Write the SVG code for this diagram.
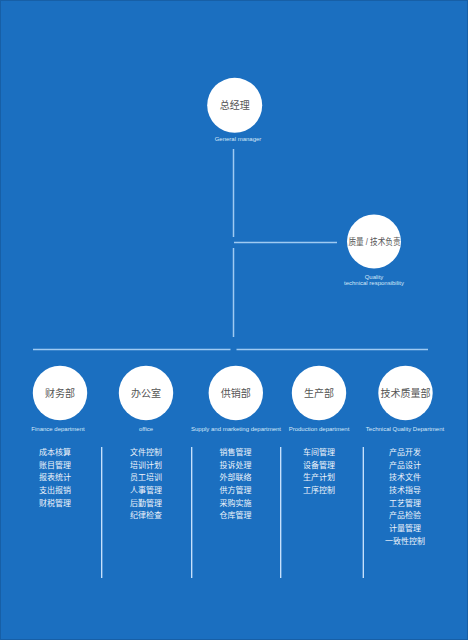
<svg xmlns="http://www.w3.org/2000/svg" width="468" height="640" viewBox="0 0 468 640">
<style>
.bg{fill:#1b6fc0;stroke:#175fa6;stroke-width:2}
.node{fill:#ffffff}
.cn{font-family:"Liberation Sans","Noto Sans CJK SC",sans-serif;font-size:10px;fill:#555555;text-anchor:middle}
.en{font-family:"Liberation Sans",Arial,sans-serif;font-size:6px;fill:#d6e7f8;text-anchor:middle}
.item{font-family:"Liberation Sans","Noto Sans CJK SC",sans-serif;font-size:8px;fill:#eef4fb;text-anchor:middle}
.ln{stroke:#9fcaf2;stroke-width:1.5;fill:none}
.dv{stroke:#cfe6ff;stroke-width:1.3;fill:none}
</style>
<rect class="bg" x="0" y="0" width="468" height="640"/>
<g id="connectors">
<line class="ln" x1="233.5" y1="149" x2="233.5" y2="237"/>
<line class="ln" x1="233.5" y1="248" x2="233.5" y2="337"/>
<line class="ln" x1="234" y1="242.5" x2="337" y2="242.5"/>
<line class="ln" x1="33" y1="349.5" x2="230.5" y2="349.5"/>
<line class="ln" x1="236.5" y1="349.5" x2="428" y2="349.5"/>
<line class="dv" x1="101.7" y1="447" x2="101.7" y2="578"/>
<line class="dv" x1="191.7" y1="447" x2="191.7" y2="578"/>
<line class="dv" x1="280.7" y1="447" x2="280.7" y2="578"/>
<line class="dv" x1="363.3" y1="447" x2="363.3" y2="578"/>
</g>
<g id="gm">
<circle class="node" cx="234.7" cy="105.3" r="27.5"/>
<text class="cn" x="234.7" y="108.8">总经理</text>
<text class="en" x="238" y="141.3">General manager</text>
</g>
<g id="quality">
<circle class="node" cx="374" cy="241.5" r="27"/>
<text class="cn" x="374.5" y="244.8" style="font-size:9.2px" textLength="52" lengthAdjust="spacingAndGlyphs">质量 / 技术负责</text>
<text class="en" x="374" y="278.8">Quality</text>
<text class="en" x="374" y="285.4">technical responsibility</text>
</g>
<g id="finance">
<circle class="node" cx="60" cy="393" r="27.2"/>
<text class="cn" x="60" y="396.5">财务部</text>
<text class="en" x="58" y="431">Finance department</text>
<text class="item" x="55" y="454.8">成本核算</text>
<text class="item" x="55" y="467.5">账目管理</text>
<text class="item" x="55" y="480.2">报表统计</text>
<text class="item" x="55" y="492.9">支出报销</text>
<text class="item" x="55" y="505.6">财税管理</text>
</g>
<g id="office">
<circle class="node" cx="146" cy="393" r="27.2"/>
<text class="cn" x="146" y="396.5">办公室</text>
<text class="en" x="146" y="431">office</text>
<text class="item" x="146" y="454.8">文件控制</text>
<text class="item" x="146" y="467.5">培训计划</text>
<text class="item" x="146" y="480.2">员工培训</text>
<text class="item" x="146" y="492.9">人事管理</text>
<text class="item" x="146" y="505.6">后勤管理</text>
<text class="item" x="146" y="518.3">纪律检查</text>
</g>
<g id="supply">
<circle class="node" cx="235.8" cy="393" r="27.2"/>
<text class="cn" x="235.8" y="396.5">供销部</text>
<text class="en" x="236" y="431">Supply and marketing department</text>
<text class="item" x="235.5" y="454.8">销售管理</text>
<text class="item" x="235.5" y="467.5">投诉处理</text>
<text class="item" x="235.5" y="480.2">外部联络</text>
<text class="item" x="235.5" y="492.9">供方管理</text>
<text class="item" x="235.5" y="505.6">采购实施</text>
<text class="item" x="235.5" y="518.3">仓库管理</text>
</g>
<g id="production">
<circle class="node" cx="319" cy="393" r="27.2"/>
<text class="cn" x="319" y="396.5">生产部</text>
<text class="en" x="319" y="431">Production department</text>
<text class="item" x="319" y="454.8">车间管理</text>
<text class="item" x="319" y="467.5">设备管理</text>
<text class="item" x="319" y="480.2">生产计划</text>
<text class="item" x="319" y="492.9">工序控制</text>
</g>
<g id="techquality">
<circle class="node" cx="405.5" cy="393" r="27.2"/>
<text class="cn" x="405.5" y="396.5">技术质量部</text>
<text class="en" x="405" y="431">Technical Quality Department</text>
<text class="item" x="405" y="454.8">产品开发</text>
<text class="item" x="405" y="467.5">产品设计</text>
<text class="item" x="405" y="480.2">技术文件</text>
<text class="item" x="405" y="492.9">技术指导</text>
<text class="item" x="405" y="505.6">工艺管理</text>
<text class="item" x="405" y="518.3">产品检验</text>
<text class="item" x="405" y="531">计量管理</text>
<text class="item" x="405" y="543.7">一致性控制</text>
</g>
</svg>
